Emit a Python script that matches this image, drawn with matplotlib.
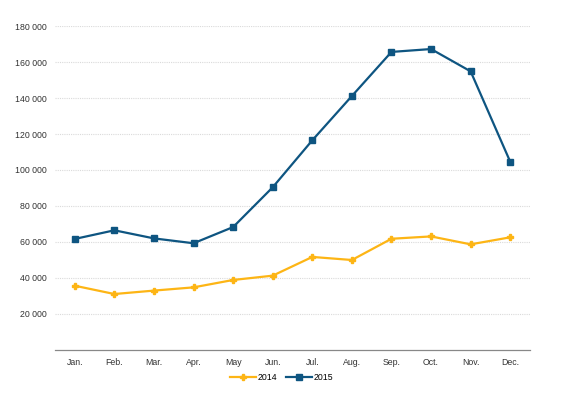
import matplotlib
matplotlib.use("Agg")
import matplotlib.pyplot as plt
from matplotlib.ticker import FuncFormatter

months = ["Jan.", "Feb.", "Mar.", "Apr.", "May", "Jun.", "Jul.", "Aug.", "Sep.", "Oct.", "Nov.", "Dec."]
v2014 = [35700, 31100, 33000, 34800, 38900, 41300, 51700, 50000, 61800, 63100, 58700, 62600]
v2015 = [61700, 66500, 62000, 59300, 68300, 90400, 116500, 141100, 165600, 167200, 154800, 104600]
yticks = [20000, 40000, 60000, 80000, 100000, 120000, 140000, 160000, 180000]

plt.rcParams['font.family'] = ['Liberation Sans', 'DejaVu Sans']

fig = plt.figure(figsize=(5.63, 3.97), dpi=100)
ax = fig.add_axes([0.0977, 0.1184, 0.8437, 0.8161])

x = list(range(len(months)))
ax.plot(x, v2014, color="#FDB515", lw=1.6, marker="P", ms=4.5, label="2014", zorder=3)
ax.plot(x, v2015, color="#0E5581", lw=1.6, marker="s", ms=5, label="2015", zorder=3)

ax.set_xlim(-0.5, len(months) - 0.5)
ax.set_ylim(0, 180000)
ax.set_xticks(x)
ax.set_xticklabels(months)
ax.set_yticks(yticks)
ax.yaxis.set_major_formatter(FuncFormatter(lambda v, p: f"{int(v):,}".replace(",", " ")))
ax.tick_params(axis='both', length=0, labelsize=6.3, colors="#333333")
ax.tick_params(axis='x', pad=6)
ax.tick_params(axis='y', pad=6)
ax.grid(axis='y', color="#dadada", linestyle=(0, (1, 1)), lw=0.8)
for s in ["top", "right", "left"]:
    ax.spines[s].set_visible(False)
ax.spines["bottom"].set_color("#888888")
ax.spines["bottom"].set_linewidth(0.9)

leg = fig.legend(loc="center", bbox_to_anchor=(0.5, 0.048), ncol=2, frameon=False,
                 fontsize=6.3, handlelength=3.0, handletextpad=0.2, columnspacing=1.0)
fig.savefig("out.png", dpi=100)
